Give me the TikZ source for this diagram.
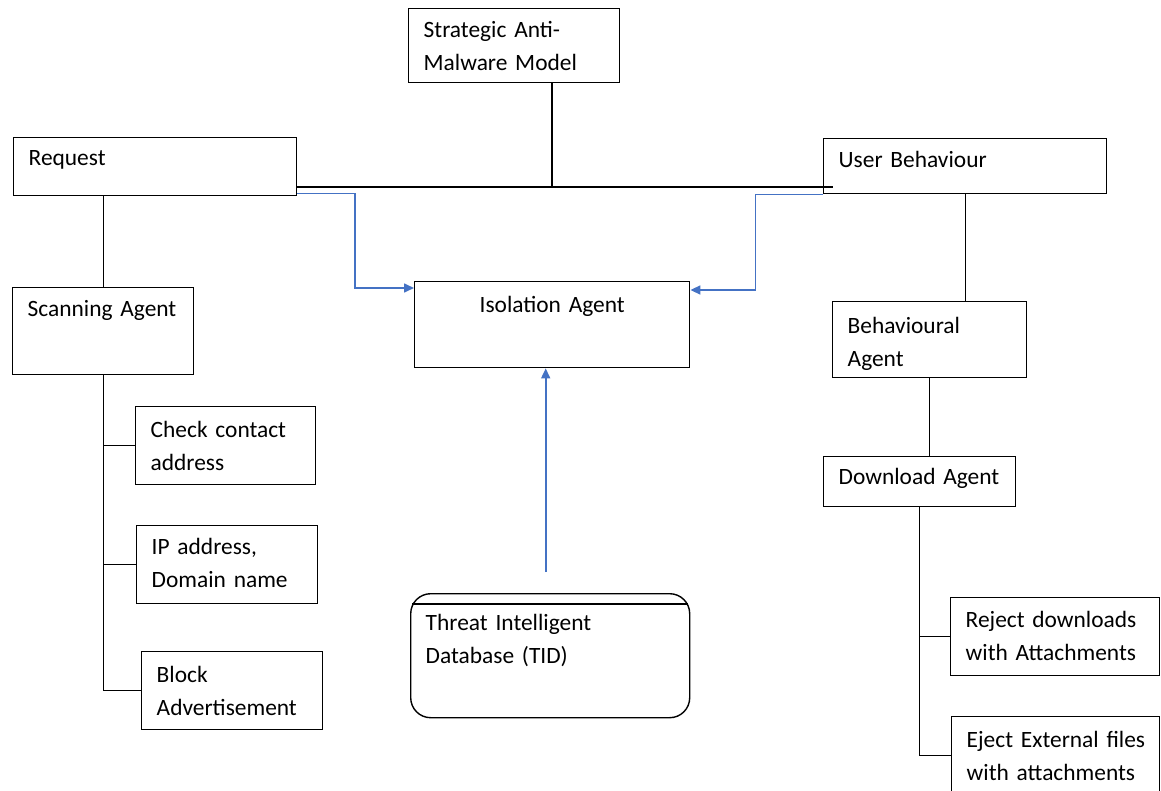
\documentclass[tikz,border=0pt]{standalone}
\usepackage{fontspec}
\setmainfont{Carlito}
\usetikzlibrary{arrows.meta}
\definecolor{linkblue}{RGB}{68,114,196}
\tikzset{
    box/.style={draw, line width=0.7pt, anchor=north west, align=left,
        inner xsep=7.5pt, inner ysep=0pt, text height=15pt,
        font=\fontsize{11.7pt}{16.5pt}\selectfont},
    link/.style={line width=0.7pt},
    flow/.style={draw=linkblue, line width=0.8pt, -{Triangle[length=5pt, width=4.5pt]}},
}
\begin{document}
\begin{tikzpicture}[x=0.5pt, y=-0.5pt]
    \useasboundingbox (0,0) rectangle (1161,791);
    \node[box, text width=90.5pt, text height=14.5pt, text depth=22.5pt] (strategic) at (408,8) {Strategic Anti-\\Malware Model};
    \node[box, text width=126.5pt, text height=14pt, text depth=15pt] (request) at (13,137) {Request};
    \node[box, text width=126.5pt, text height=14.5pt, text depth=13pt] (user) at (823,138) {User Behaviour};
    \node[box, align=center, text width=122.5pt, text height=15.5pt, text depth=27.5pt] (isolation) at (414,281) {Isolation Agent};
    \node[box, text width=75.5pt, text height=14.5pt, text depth=29pt] (scanning) at (12,287) {Scanning Agent};
    \node[box, text width=75pt, text height=15.5pt, text depth=23.5pt] (check) at (135,406) {Check contact\\address};
    \node[box, text width=75.5pt, text height=14.5pt, text depth=24.5pt] (ip) at (136,525) {IP address,\\Domain name};
    \node[box, text width=75.5pt, text height=15.5pt, text depth=23.5pt] (block) at (141,651) {Block\\Advertisement};
    \node[box, text width=82pt, text height=16pt, text depth=22pt] (behavioural) at (832,301) {Behavioural\\Agent};
    \node[box, text width=81pt, text height=14pt, text depth=11pt] (download) at (823,456) {Download Agent};
    \node[box, text width=89.5pt, text depth=24pt] (reject) at (950,597) {Reject downloads\\with Attachments};
    \node[box, text width=89pt, text height=15.5pt, text depth=23.5pt] (eject) at (951,716) {\mbox{Eject External files}\\with attachments};
    \node[box, rounded corners=10pt, text width=124.5pt, text height=18.5pt, text depth=43.5pt] (tid) at (410,593) {Threat Intelligent\\Database (TID)};
    \draw[link] ([xshift=1pt,yshift=-5.5pt]tid.north west) -- ([xshift=-1pt,yshift=-5.5pt]tid.north east);

    \coordinate (hub) at (552,187);
    \draw[link] (request.east |- hub) -- ([xshift=5pt]user.west |- hub);
    \draw[link] (strategic.south -| hub) -- (hub);
    \draw[link] (scanning.north) -- (scanning.north |- request.south);
    \draw[link] (scanning.south) |- (block.west);
    \draw[link] (scanning.south |- check.west) -- (check.west);
    \draw[link] (scanning.south |- ip.west) -- (ip.west);
    \draw[link] (user.south) -- (user.south |- behavioural.north);
    \draw[link] (behavioural.south) -- (behavioural.south |- download.north);
    \draw[link] (download.south) |- (eject.west);
    \draw[link] (download.south |- reject.west) -- (reject.west);

    \draw[flow] ([yshift=1.5pt]request.south east) -| ([xshift=-29.5pt,yshift=-3.5pt]isolation.north west) -- ([yshift=-3.5pt]isolation.north west);
    \draw[flow] (user.south west) -| ([xshift=32.5pt,yshift=-4.5pt]isolation.north east) -- ([yshift=-4.5pt]isolation.north east);
    \draw[flow] ([xshift=-2.25pt,yshift=10.5pt]tid.north) -- ([xshift=-2.25pt]tid.north |- isolation.south);
\end{tikzpicture}
\end{document}
